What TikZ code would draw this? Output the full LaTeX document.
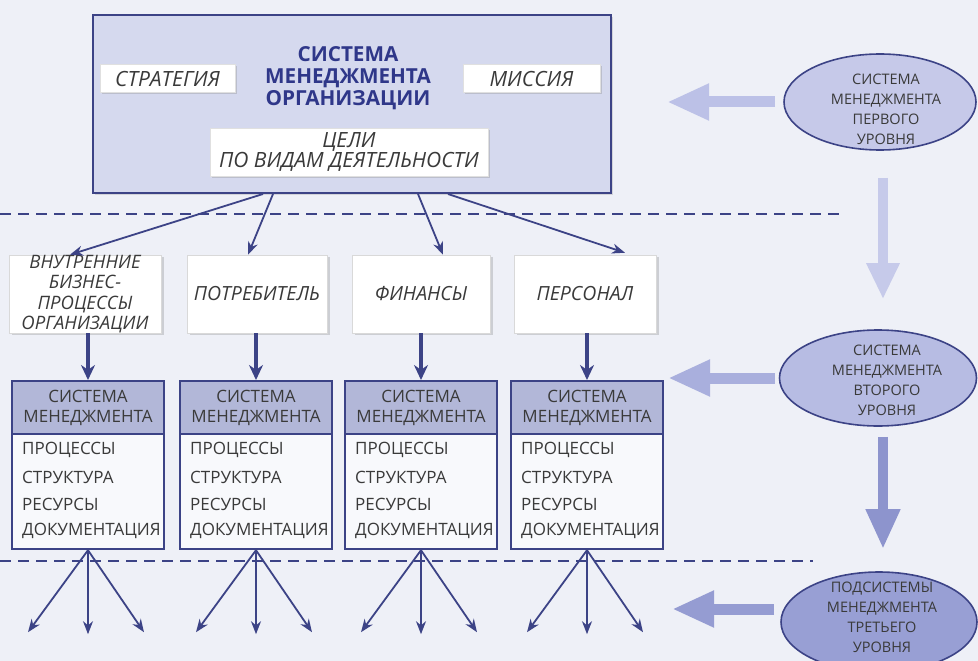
\documentclass[tikz,border=0pt]{standalone}
\usepackage{fontspec}
\setmainfont{Open Sans}
\usetikzlibrary{arrows.meta,shapes.geometric,shadows}
\definecolor{navy}{HTML}{3C4386}
\definecolor{bgc}{HTML}{EEF0F7}
\definecolor{topfill}{HTML}{D5D9EE}
\definecolor{hdrfill}{HTML}{B2B7D8}
\definecolor{txt}{HTML}{3A3A3A}
\definecolor{titlec}{HTML}{2F3789}
\definecolor{ellA}{HTML}{C6C9E9}
\definecolor{ellB}{HTML}{B7BCE3}
\definecolor{ellC}{HTML}{989FD4}
\definecolor{parA}{HTML}{BCC1E7}
\definecolor{parB}{HTML}{A9AFDD}
\definecolor{parC}{HTML}{959CD2}
\definecolor{varA}{HTML}{C6CAEA}
\definecolor{varB}{HTML}{8D94CD}
\newcommand\SMBox[2]{%
  \node[sbox, anchor=north] (#1) at (#2,380) {};
  \node[shdr, anchor=north] (#1h) at (#1.north) {СИСТЕМА\\МЕНЕДЖМЕНТА};
  \node[sitem] (#1a) at (#2-66,450) {ПРОЦЕССЫ};
  \node[sitem] (#1b) at (#2-66,477) {СТРУКТУРА};
  \node[sitem] (#1c) at (#2-66,504) {РЕСУРСЫ};
  \node[sitem] (#1d) at (#2-66,531) {ДОКУМЕНТАЦИЯ};
}
\tikzset{
  topbox/.style={draw=navy, line width=2pt, fill=topfill, inner sep=0,
    drop shadow={shadow xshift=2pt, shadow yshift=-2pt, opacity=.25}},
  wlabel/.style={fill=white, draw=black!12, line width=.5pt, inner sep=0,
    drop shadow={shadow xshift=2pt, shadow yshift=-2pt, opacity=.3},
    font=\fontsize{21}{20}\selectfont\itshape, text=txt, align=center},
  midbox/.style={fill=white, draw=black!15, line width=.5pt, inner sep=0,
    minimum height=78pt, drop shadow={shadow xshift=3pt, shadow yshift=-2pt, opacity=.3},
    font=\fontsize{19.5}{20.5}\selectfont\itshape, text=txt, align=center},
  sbox/.style={draw=navy, line width=2.2pt, fill=white!60!bgc, minimum width=152pt,
    minimum height=168pt, inner sep=0},
  shdr/.style={draw=navy, line width=2.2pt, fill=hdrfill, minimum width=152pt,
    minimum height=53pt, inner sep=0, align=center, text=txt,
    font=\fontsize{17}{20}\selectfont},
  sitem/.style={anchor=west, inner sep=0, text=txt, font=\fontsize{17}{20}\selectfont},
  thinarrow/.style={draw=navy, line width=1.8pt, -{Stealth[length=13pt,width=10pt]}},
  thickarrow/.style={draw=navy, line width=4pt, -{Stealth[length=15pt,width=14pt]}},
  dashline/.style={draw=navy, line width=2.2pt, dash pattern=on 11pt off 7pt},
  ellnode/.style={ellipse, draw=navy, line width=1.6pt, inner sep=0},
  etext/.style={align=center, text=txt, inner sep=0, font=\fontsize{14.5}{20}\selectfont},
  bigarrow/.style={line width=11pt, -{Triangle[length=42pt,width=34pt]}}
}
\begin{document}
\begin{tikzpicture}[x=1pt,y=-1pt]
\fill[bgc] (0,0) rectangle (978,661);
\useasboundingbox (0,0) rectangle (978,661);

% top box
\node[topbox, minimum width=518pt, minimum height=178pt, anchor=north west] (top) at (92,14) {};
\node[wlabel, minimum width=135pt, minimum height=28pt] (strat) at (167.5,78.5) {СТРАТЕГИЯ};
\node[wlabel, minimum width=137pt, minimum height=28pt] (miss) at (531.5,78.5) {МИССИЯ};
\node[wlabel, minimum width=278pt, minimum height=48pt] (goals) at (349,152) {ЦЕЛИ\\ПО ВИДАМ ДЕЯТЕЛЬНОСТИ};
\node[font=\bfseries\fontsize{20.7}{22}\selectfont, text=titlec, align=center, inner sep=0] (title) at (348,78) {СИСТЕМА\\МЕНЕДЖМЕНТА\\ОРГАНИЗАЦИИ};

% dashed lines
\coordinate (d1a) at (0,214); \coordinate (d1b) at (843,214);
\coordinate (d2a) at (0,561); \coordinate (d2b) at (813,561);
\draw[dashline] (d1a) -- (d1b);
\draw[dashline] (d2a) -- (d2b);

% middle boxes
\node[midbox, minimum width=152pt, font=\fontsize{18.5}{20.5}\selectfont\itshape] (A) at (85,294) {ВНУТРЕННИЕ\\БИЗНЕС-\\ПРОЦЕССЫ\\ОРГАНИЗАЦИИ};
\node[midbox, minimum width=140pt] (B) at (257,294) {ПОТРЕБИТЕЛЬ};
\node[midbox, minimum width=138pt] (C) at (421,294) {ФИНАНСЫ};
\node[midbox, minimum width=142pt] (D) at (585,294) {ПЕРСОНАЛ};

\draw[thinarrow] ([xshift=-89pt]top.south) -- ([xshift=-15pt]A.north);
\draw[thinarrow] ([xshift=-79pt]top.south) -- ([xshift=-9pt]B.north);
\draw[thinarrow] ([xshift=66pt]top.south) -- ([xshift=22pt]C.north);
\draw[thinarrow] ([xshift=96pt]top.south) -- ([xshift=40pt,yshift=2pt]D.north);

% bottom boxes
\SMBox{S1}{88}
\SMBox{S2}{256}
\SMBox{S3}{421}
\SMBox{S4}{587}

\draw[thickarrow] (A.south -| S1.north) -- (S1.north);
\draw[thickarrow] (B.south -| S2.north) -- (S2.north);
\draw[thickarrow] (C.south -| S3.north) -- (S3.north);
\draw[thickarrow] (D.south -| S4.north) -- (S4.north);

\foreach \s in {S1,S2,S3,S4}{
  \draw[thinarrow] (\s.south) -- ([xshift=-60pt,yshift=-82pt]\s.south);
  \draw[thinarrow] (\s.south) -- ([yshift=-84pt]\s.south);
  \draw[thinarrow] (\s.south) -- ([xshift=56pt,yshift=-82pt]\s.south);
}

% right side ellipses
\node[ellnode, fill=ellA, minimum width=192pt, minimum height=96pt] (E1) at (880,102) {};
\node[etext] (E1t) at (886,109) {СИСТЕМА\\МЕНЕДЖМЕНТА\\ПЕРВОГО\\УРОВНЯ};
\node[ellnode, fill=ellB, minimum width=197pt, minimum height=96pt] (E2) at (878,378) {};
\node[etext] (E2t) at (887,380) {СИСТЕМА\\МЕНЕДЖМЕНТА\\ВТОРОГО\\УРОВНЯ};
\node[ellnode, fill=ellC, minimum width=196pt, minimum height=100pt] (E3) at (879,622) {};
\node[etext] (E3t) at (882,617) {ПОДСИСТЕМЫ\\МЕНЕДЖМЕНТА\\ТРЕТЬЕГО\\УРОВНЯ};

\coordinate (L1) at (667,102);
\coordinate (L2) at (668,378);
\coordinate (L3) at (672,609);
\draw[bigarrow, draw=parA, fill=parA, shorten <=8pt] (E1.west) -- (L1);
\draw[bigarrow, draw=parB, fill=parB, shorten <=4pt] (E2.west) -- (L2);
\draw[bigarrow, draw=parC, fill=parC, shorten <=6pt] ([yshift=13pt]E3.west) -- (L3);

\draw[line width=10pt, draw=varA, -{Triangle[length=36pt,width=31pt,fill=varA]}, shorten <=27pt, shorten >=30pt]
  ([xshift=3pt]E1.south) -- ([xshift=5pt]E2.north);
\draw[line width=10pt, draw=varB, -{Triangle[length=40pt,width=32pt,fill=varB]}, shorten <=10pt, shorten >=22pt]
  ([xshift=5pt]E2.south) -- ([xshift=4pt]E3.north);
\end{tikzpicture}
\end{document}
